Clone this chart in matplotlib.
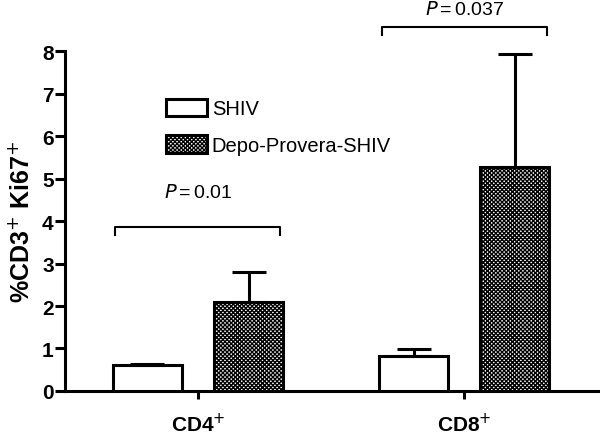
import numpy as np
import matplotlib.pyplot as plt

plt.rcParams['font.family'] = ['Liberation Sans', 'DejaVu Sans']
plt.rcParams['hatch.linewidth'] = 1.0

# data
groups = ['CD4$^{+}$', 'CD8$^{+}$']
shiv = [0.60, 0.83]
shiv_err = [0.03, 0.16]
depo = [2.10, 5.28]
depo_err = [0.69, 2.65]
pvals = ['0.01', '0.037']
bracket_y = [3.86, 8.56]
ptext_y = [4.68, 8.99]

x = np.arange(len(groups))
w = 0.26
off = 0.19

fig = plt.figure(figsize=(6, 4.35), dpi=100)
ax = fig.add_axes([0.108, 0.099, 0.892, 0.781])

lw = 2.2
ax.bar(x - off, shiv, w, color='white', edgecolor='black', linewidth=lw,
       yerr=[np.zeros(2), shiv_err], capsize=12.5,
       error_kw=dict(elinewidth=lw, capthick=lw), label='SHIV', zorder=3)
ax.bar(x + off, depo, w, color='white', edgecolor='black', linewidth=lw,
       hatch='xxxxxxxx', yerr=[np.zeros(2), depo_err], capsize=12.5,
       error_kw=dict(elinewidth=lw, capthick=lw), label='Depo-Provera-SHIV',
       zorder=3)

# significance brackets
for i in range(len(groups)):
    x0 = x[i] - off - w / 2 + 0.01
    x1 = x[i] + off + w / 2 - 0.01
    y = bracket_y[i]
    ax.plot([x0, x0, x1, x1], [y - 0.18, y, y, y - 0.18], color='black',
            linewidth=1.5, clip_on=False)
    ax.text(x[i], ptext_y[i], '$\\it{P}\\,$=$\\,$' + pvals[i], ha='center',
            va='center', fontsize=14, clip_on=False)

ax.set_xlim(-0.5, 1.51)
ax.set_ylim(0, 8)
ax.set_yticks(range(0, 9))
ax.set_xticks(x)
ax.set_xticklabels(groups, fontsize=15, fontweight='bold')
for t in ax.get_yticklabels():
    t.set_fontsize(15)
    t.set_fontweight('bold')
ax.set_ylabel('%CD3$^{+}$ Ki67$^{+}$', fontsize=18, fontweight='bold',
              labelpad=6)

for s in ['top', 'right']:
    ax.spines[s].set_visible(False)
for s in ['left', 'bottom']:
    ax.spines[s].set_linewidth(2.2)
ax.tick_params(axis='y', width=2.2, length=7, pad=1)
ax.tick_params(axis='x', width=2.2, length=6, pad=9)

leg = ax.legend(loc='upper left', bbox_to_anchor=(0.19, 0.86), frameon=False,
                fontsize=14.5, handlelength=2.0, handleheight=0.95,
                handletextpad=0.25, labelspacing=0.85, borderaxespad=0,
                borderpad=0)

fig.savefig('out.png', dpi=100)
